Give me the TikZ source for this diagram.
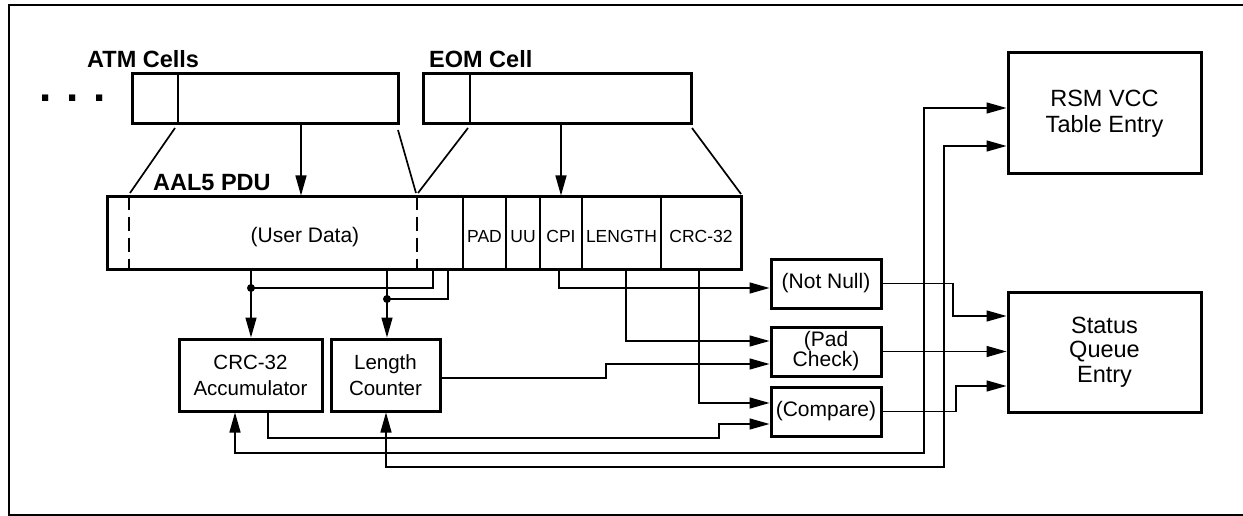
\documentclass[tikz,border=0pt]{standalone}
\usepackage{fontspec}
\setmainfont{Liberation Sans}
\usetikzlibrary{arrows.meta}
\tikzset{
  box/.style={draw, line width=3pt, inner sep=0pt, align=center},
  conn/.style={line width=1.4pt},
  arr/.style={conn, -{Triangle[length=20pt,width=11pt]}},
  arrboth/.style={conn, {Triangle[length=20pt,width=11pt]}-{Triangle[length=20pt,width=11pt]}},
  divider/.style={line width=2.2pt},
  diag/.style={line width=1.7pt},
  dashdiv/.style={line width=2.2pt, dash pattern=on 14pt off 7pt},
  boldlabel/.style={font=\fontsize{23.5}{26}\selectfont\bfseries, inner sep=0pt, anchor=base west},
  fieldtxt/.style={font=\fontsize{17.5}{19}\selectfont, inner sep=0pt, anchor=base},
  midtxt/.style={font=\fontsize{20.5}{26}\selectfont},
  smalltxt/.style={font=\fontsize{21}{20}\selectfont},
  bigtxt/.style={font=\fontsize{23.5}{24.5}\selectfont},
  dotjoin/.style={fill, circle, inner sep=0pt, minimum size=8pt},
}
\begin{document}
\begin{tikzpicture}[x=1pt, y=-1pt]
\useasboundingbox (0,0) rectangle (1243,516);
% frame
\draw[line width=1.5pt] (1250,5) -- (9,5) -- (9,515) -- (1250,515);

% labels
\node[boldlabel] (lblatm) at (87,68) {ATM Cells};
\node[boldlabel] (lbleom) at (429,68) {EOM Cell};
\node[boldlabel] (lblpdu) at (153,190) {AAL5 PDU};
\node[font=\fontsize{44}{46}\selectfont\bfseries, inner sep=0pt, anchor=base west] (dots) at (39,102) {.\hspace{15pt}.\hspace{15pt}.};

% cells
\node[box, minimum width=266pt, minimum height=50pt] (atm) at (265,99) {};
\node[box, minimum width=268pt, minimum height=50pt] (eom) at (557,99) {};
\coordinate (atmdiv) at (178,0);
\coordinate (eomdiv) at (470,0);
\draw[divider] (atm.north -| atmdiv) -- (atm.south -| atmdiv);
\draw[divider] (eom.north -| eomdiv) -- (eom.south -| eomdiv);

% PDU
\node[box, minimum width=634pt, minimum height=72pt] (pdu) at (424,233) {};
\foreach \xx [count=\i] in {463,506,540,582,661} {
  \coordinate (fd\i) at (\xx,0);
  \draw[divider] (pdu.north -| fd\i) -- (pdu.south -| fd\i);
}
\coordinate (dsh1) at (129,0);
\coordinate (dsh2) at (417,0);
\draw[dashdiv] (pdu.north -| dsh1) -- (pdu.south -| dsh1);
\draw[dashdiv] (pdu.north -| dsh2) -- (pdu.south -| dsh2);
\node[font=\fontsize{21}{23}\selectfont, inner sep=0pt, anchor=base] (udata) at (305,242) {(User Data)};
\node[fieldtxt] (fpad) at (484.5,242) {PAD};
\node[fieldtxt] (fuu) at (523,242) {UU};
\node[fieldtxt] (fcpi) at (561,242) {CPI};
\node[fieldtxt] (flen) at (621.5,242) {LENGTH};
\node[fieldtxt] (fcrc) at (701,242) {CRC-32};

% expansion lines
\coordinate (d1a) at (175,128); \coordinate (d1b) at (130,193);
\coordinate (d2a) at (398,130); \coordinate (d2b) at (416,193);
\coordinate (d3a) at (468,128); \coordinate (d3b) at (418,193);
\coordinate (d4a) at (692,128); \coordinate (d4b) at (741,194);
\draw[diag] (d1a) -- (d1b);
\draw[diag] (d2a) -- (d2b);
\draw[diag] (d3a) -- (d3b);
\draw[diag] (d4a) -- (d4b);

% arrows into PDU
\coordinate (xa) at (301,0);
\coordinate (xb) at (561,0);
\draw[arr] (atm.south -| xa) -- (pdu.north -| xa);
\draw[arr] (eom.south -| xb) -- (pdu.north -| xb);

% lower boxes
\node[box, midtxt, minimum width=143pt, minimum height=72pt] (acc) at (250.5,375) {CRC-32\\Accumulator};
\node[box, midtxt, minimum width=109pt, minimum height=72pt] (len) at (385.5,375) {Length\\Counter};
\node[box, smalltxt, minimum width=110pt, minimum height=49pt] (nn) at (826,283.5) {(Not Null)};
\node[box, smalltxt, minimum width=110pt, minimum height=49pt] (pad) at (826,351.5) {(Pad\\Check)};
\node[box, smalltxt, minimum width=110pt, minimum height=49pt] (cmp) at (826,411.5) {(Compare)};
\node[box, font=\fontsize{23.5}{26}\selectfont, minimum width=193pt, minimum height=121pt] (rsm) at (1104.5,113.5) {RSM VCC\\Table Entry};
\node[box, bigtxt, minimum width=193pt, minimum height=120pt] (sq) at (1104.5,352) {Status\\Queue\\Entry};

% target points on box sides
\coordinate (tnn) at ([yshift=-4.5pt]nn.west);
\coordinate (tpad1) at ([yshift=10.5pt]pad.west);
\coordinate (tpad2) at ([yshift=-12.5pt]pad.west);
\coordinate (tcmp1) at ([yshift=8.5pt]cmp.west);
\coordinate (tcmp2) at ([yshift=-12.5pt]cmp.west);
\coordinate (tsq1) at ([yshift=36pt]sq.west);
\coordinate (tsq3) at ([yshift=-34pt]sq.west);
\coordinate (trsm1) at ([yshift=5.5pt]rsm.west);
\coordinate (trsm2) at ([yshift=-32.5pt]rsm.west);
\coordinate (slen) at ([yshift=-3pt]len.east);

% PDU to accumulator / counter
\coordinate (x1) at (251,0);
\coordinate (x2) at (387,0);
\coordinate (x433) at (433,0);
\coordinate (x448) at (448,0);
\coordinate (j1) at (251,288);
\coordinate (j2) at (387,299);
\draw[arr] (pdu.south -| x1) -- (acc.north -| x1);
\draw[arr] (pdu.south -| x2) -- (len.north -| x2);
\draw[conn] (j1) -- (j1 -| x433) -- (pdu.south -| x433);
\draw[conn] (j2) -- (j2 -| x448) -- (pdu.south -| x448);
\node[dotjoin] (dj1) at (j1) {};
\node[dotjoin] (dj2) at (j2) {};

% PDU fields to check boxes
\coordinate (xcpi) at (559,0);
\coordinate (xlen) at (626,0);
\coordinate (xcrc) at (699,0);
\draw[arr] (pdu.south -| xcpi) |- (tnn);
\draw[arr] (pdu.south -| xlen) |- (tpad1);
\draw[arr] (pdu.south -| xcrc) |- (tcmp1);

% counter to pad check
\coordinate (x606) at (606,0);
\draw[arr] (slen) -| (x606 |- tpad2) -- (tpad2);

% accumulator to compare
\coordinate (x268) at (268,0);
\coordinate (c719) at (719,438);
\draw[arr] (acc.south -| x268) |- (c719) |- (tcmp2);

% check boxes to status queue
\coordinate (x953) at (953,0);
\coordinate (x956) at (956,0);
\draw[arr] (nn.east) -| (x953 |- tsq1) -- (tsq1);
\draw[arr] (pad.east) -- (pad.east -| sq.west);
\draw[arr] (cmp.east) -| (x956 |- tsq3) -- (tsq3);

% return lines RSM <-> accumulator / counter
\coordinate (x235) at (235,0);
\coordinate (x386) at (386,0);
\coordinate (c924) at (924,453);
\coordinate (c944) at (944,467);
\draw[arrboth] (acc.south -| x235) |- (c924) |- (trsm1);
\draw[arrboth] (len.south -| x386) |- (c944) |- (trsm2);
\end{tikzpicture}
\end{document}
